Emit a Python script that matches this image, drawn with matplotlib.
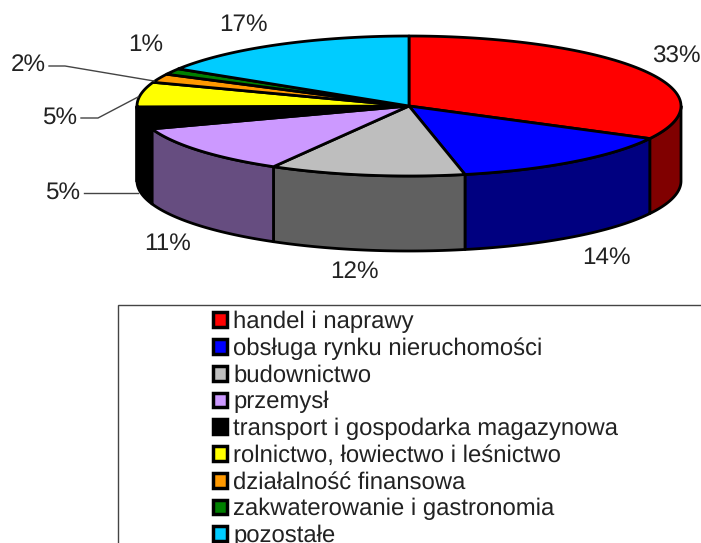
import numpy as np
import matplotlib
matplotlib.use('Agg')
import matplotlib.pyplot as plt
from matplotlib.patches import Polygon, Rectangle

plt.rcParams['font.family'] = ['Liberation Sans', 'DejaVu Sans']
plt.rcParams['text.hinting'] = 'none'

# data
categories = ['handel i naprawy', 'obsługa rynku nieruchomości', 'budownictwo', 'przemysł',
              'transport i gospodarka magazynowa', 'rolnictwo, łowiectwo i leśnictwo',
              'działalność finansowa', 'zakwaterowanie i gastronomia', 'pozostałe']
# printed percentages
labels = [33, 14, 12, 11, 5, 5, 2, 1, 17]
shares = [32.7, 14.0, 11.6, 11.4, 5.1, 5.7, 2.0, 1.4, 16.1]
top_colors = ['#ff0000', '#0000ff', '#bebebe', '#cc99ff', '#000000', '#ffff00', '#ff9900', '#008000', '#00ccff']
side_colors = ['#800000', '#000080', '#606060', '#664d80', '#000000', '#808000', '#804d00', '#004000', '#006680']

W, H = 701, 543
cx, cy = 409, 106
rx, ry = 272, 70
depth = 75

fig = plt.figure(figsize=(W / 100, H / 100), dpi=100)
ax = fig.add_axes([0, 0, 1, 1])
ax.set_xlim(0, W)
ax.set_ylim(H, 0)
ax.axis('off')


def rim(a0, a1, dy=0):
    # a0, a1 in degrees clockwise from 12 o'clock
    t = np.radians(np.linspace(a0, a1, 80))
    return cx + rx * np.sin(t), cy - ry * np.cos(t) + dy


edges = np.concatenate([[0], np.cumsum(shares)]) * 3.6

# side walls (front half only: 90..270 deg)
for i in range(len(shares)):
    a0, a1 = max(edges[i], 90), min(edges[i + 1], 270)
    if a1 <= a0:
        continue
    x, y = rim(a0, a1)
    xb, yb = rim(a1, a0, depth)
    ax.add_patch(Polygon(np.r_[np.c_[x, y], np.c_[xb, yb]], closed=True, fc=side_colors[i],
                         ec='black', lw=2.0, joinstyle='round'))

# top slices
for i in range(len(shares)):
    x, y = rim(edges[i], edges[i + 1])
    pts = np.r_[[[cx, cy]], np.c_[x, y]]
    ax.add_patch(Polygon(pts, closed=True, fc=top_colors[i], ec='black', lw=2.0, joinstyle='round'))

# percentage labels
label_pos = [(676, 57), (606, 258), (354, 272), (168, 244), (63, 193), (60, 118), (28, 65), (146, 45), (243, 25)]
for v, (lx, ly) in zip(labels, label_pos):
    ax.text(lx, ly, f'{v}%', fontsize=17.5, ha='center', va='center', color='#222222')

# leader lines
ax.plot([84, 138], [193, 193], color='#444444', lw=1.0)
ax.plot([81, 98, 138], [118, 118, 97], color='#444444', lw=1.0)
ax.plot([49, 65, 154], [66, 66, 81], color='#444444', lw=1.0)

# legend
ax.add_patch(Rectangle((118, 305), 600, 260, fc='white', ec='#444444', lw=1.0))
for i, name in enumerate(categories):
    y = 319.7 + i * 26.75
    ax.add_patch(Rectangle((212.7, y - 7.3), 14.6, 14.6, fc=top_colors[i], ec='black', lw=2.5))
    ax.text(233, y + 8.3, name, fontsize=17.2, ha='left', va='baseline', color='#222222')

fig.savefig('out.png', dpi=100)
